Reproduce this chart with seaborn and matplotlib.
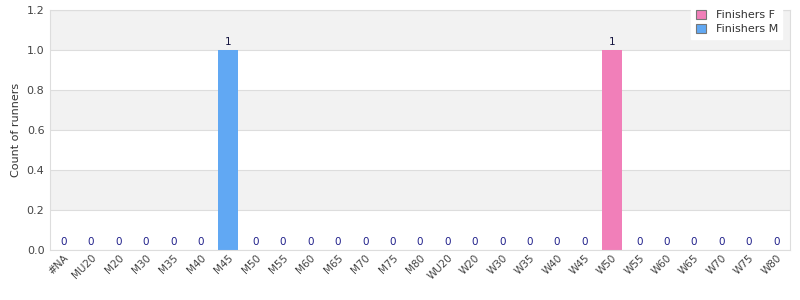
import matplotlib
matplotlib.use("Agg")
import matplotlib.pyplot as plt
import seaborn as sns
import pandas as pd
from matplotlib.patches import Patch

categories = ["#NA", "MU20", "M20", "M30", "M35", "M40", "M45", "M50", "M55", "M60",
              "M65", "M70", "M75", "M80", "WU20", "W20", "W30", "W35", "W40", "W45",
              "W50", "W55", "W60", "W65", "W70", "W75", "W80"]
finishers_f = [0]*20 + [1] + [0]*6
finishers_m = [0]*6 + [1] + [0]*20

series_names = ["Finishers F", "Finishers M"]
colors = {"Finishers F": "#F17FB9", "Finishers M": "#61A8F3"}

sns.set_theme(style="white")
plt.rcParams['font.family'] = ['DejaVu Sans']

df = pd.DataFrame({
    "category": categories * 2,
    "value": finishers_f + finishers_m,
    "series": ["Finishers F"] * len(categories) + ["Finishers M"] * len(categories),
})

fig = plt.figure(figsize=(8, 3), dpi=100)
ax = fig.add_axes([0.0625, 0.1667, 0.925, 0.8])

# alternating background bands
for i, (lo, hi) in enumerate([(0, 0.2), (0.2, 0.4), (0.4, 0.6), (0.6, 0.8), (0.8, 1.0), (1.0, 1.2)]):
    if i % 2 == 1:
        ax.axhspan(lo, hi, color="#f2f2f2", zorder=0, lw=0)

sns.barplot(data=df, x="category", y="value", hue="series", order=categories,
            hue_order=series_names, palette=colors, dodge=False, width=0.73,
            saturation=1, ax=ax, legend=False, zorder=2, linewidth=0, edgecolor="none")

ax.set_ylim(0, 1.2)
ax.set_xlim(-0.5, len(categories) - 0.5)
ax.set_yticks([0, 0.2, 0.4, 0.6, 0.8, 1.0, 1.2])
ax.set_yticklabels(["0.0", "0.2", "0.4", "0.6", "0.8", "1.0", "1.2"])
ax.yaxis.grid(True, color="#dddddd", lw=0.8, zorder=1)
ax.set_axisbelow(True)
ax.tick_params(axis="y", labelsize=8, colors="#444444", length=0, pad=4)
ax.tick_params(axis="x", labelsize=7.5, colors="#444444", length=0, pad=2)
plt.setp(ax.get_xticklabels(), rotation=45, ha="right", rotation_mode="anchor")
ax.set_xlabel("")
ax.set_ylabel("Count of runners", fontsize=8, color="#333333")
for s in ax.spines.values():
    s.set_color("#dddddd")
    s.set_linewidth(0.8)

totals = [f + m for f, m in zip(finishers_f, finishers_m)]
for i, t in enumerate(totals):
    ax.text(i, t + 0.015, f"{t}", ha="center", va="bottom", fontsize=7.5,
            color="#1f1f8a" if t == 0 else "#151540", zorder=3)

handles = [Patch(facecolor=colors[n], edgecolor="#777777", lw=0.8) for n in series_names]
leg = fig.legend(handles, series_names, loc="upper right", bbox_to_anchor=(0.985, 1.0),
                 fontsize=8, frameon=True, fancybox=False, handlelength=0.9, handleheight=0.9,
                 borderpad=0.4, labelspacing=0.3, handletextpad=0.9)
leg.get_frame().set_edgecolor("white")
leg.get_frame().set_facecolor("white")
leg.get_frame().set_alpha(1)
for t in leg.get_texts():
    t.set_color("#333333")

fig.savefig("out.png", dpi=100)
